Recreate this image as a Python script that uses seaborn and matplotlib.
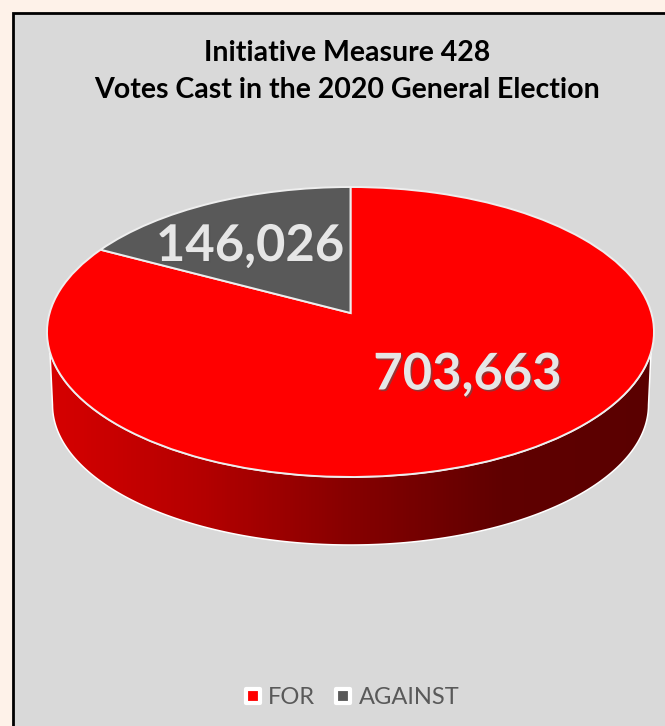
import numpy as np
import matplotlib
matplotlib.use("Agg")
import matplotlib.pyplot as plt
import matplotlib.patheffects as pe
from matplotlib.colors import LinearSegmentedColormap
from matplotlib.lines import Line2D
from matplotlib.markers import MarkerStyle
from matplotlib.patches import Polygon
from matplotlib.transforms import Transform
import seaborn as sns

title_lines = ["Initiative Measure 428", "Votes Cast in the 2020 General Election"]
categories = ["FOR", "AGAINST"]
votes = [703663, 146026]
slice_colors = ["#ff0000", "#595959"]
side_colors = ["#d60000", "#b40000", "#860000", "#600000", "#5a0000"]

sns.set_theme(style="white")
plt.rcParams["font.family"] = ["Lato", "DejaVu Sans"]


class Tilt(Transform):
    # circle -> perspective ellipse, output in figure pixels
    input_dims = output_dims = 2

    def __init__(self, cx, cy, rx, ry, apex):
        super().__init__()
        self.k = apex / ry
        self.cx, self.cy, self.ry, self.apex = cx, cy, ry, apex
        self.w = rx * np.sqrt(1 - self.k ** 2)

    def transform_non_affine(self, xy):
        xy = np.asarray(xy)
        d = 1 + self.k * xy[:, 1]
        return np.column_stack([self.cx + self.w * xy[:, 0] / d,
                                self.cy - (self.ry * xy[:, 1] + self.apex) / d])


def rim(tilt, lo, hi):
    t = np.linspace(lo, hi, 200)
    return tilt.transform_non_affine(np.column_stack([np.cos(t), np.sin(t)]))


fig = plt.figure(figsize=(6.65, 7.26), dpi=100, facecolor="#fef2e9")
ax = fig.add_axes([0, 0, 1, 1])

top = Tilt(350.5, 332, 303.5, 145, 19)
low = Tilt(350.5, 405, 298, 140, 19)

top_w, _ = ax.pie(votes, colors=slice_colors, startangle=90, counterclock=False,
                  wedgeprops=dict(edgecolor="#eeeeee", linewidth=1.4))
for w in top_w:
    w.set_transform(top + ax.transData)
    w.set_zorder(5)

ax.set_aspect("auto")
ax.set_axis_off()

ax.add_patch(Polygon([[13, 740], [13, 13], [680, 13], [680, 740]], facecolor="#d9d9d9",
                     edgecolor="black", linewidth=2.0, zorder=0))

# side wall of the disc, horizontal dark red gradient
tip = np.arcsin(low.k)
band_pts = np.vstack([rim(top, np.pi + 0.27, 2 * np.pi - 0.27),
                      rim(low, 2 * np.pi - tip, np.pi + tip)])
band = Polygon(band_pts, closed=True, facecolor="none", edgecolor="white", linewidth=1.1, zorder=4)
ax.add_patch(band)
cmap = LinearSegmentedColormap.from_list("side", side_colors)
img = ax.imshow(np.linspace(0, 1, 300)[None, :], cmap=cmap, extent=[50, 652, 560, 330],
                aspect="auto", zorder=3)
img.set_clip_path(band)
ax.set_xlim(0, 665)
ax.set_ylim(726, 0)

label_fx = [pe.withSimplePatchShadow(offset=(1.2, -1.2), shadow_rgbFace="#555555", alpha=0.6)]
for v, (x, y) in zip(votes, [(467.5, 375), (250, 246.5)]):
    ax.text(x, y, f"{v:,}", ha="center", va="center", fontsize=36.5, fontweight="bold",
            color="#e6e6e6", path_effects=label_fx, zorder=6)

for line, y in zip(title_lines, [53, 90]):
    ax.text(347.5, y, line, ha="center", va="center", fontsize=20.5, fontweight="bold",
            color="black", zorder=6)

square = MarkerStyle("s", joinstyle="round")
handles = [Line2D([], [], linestyle="none", marker=square, markersize=10.5, markerfacecolor=c,
                  markeredgecolor="white", markeredgewidth=3) for c in slice_colors]
ax.legend(handles, categories, loc="center", bbox_to_anchor=(349, 697.5),
          bbox_transform=ax.transData, ncol=2, frameon=False, fontsize=17,
          labelcolor="#595959", handletextpad=0.07, columnspacing=0.57, handlelength=1.2)

sns.despine(ax=ax, left=True, bottom=True)
fig.savefig("out.png", dpi=100, facecolor=fig.get_facecolor())
